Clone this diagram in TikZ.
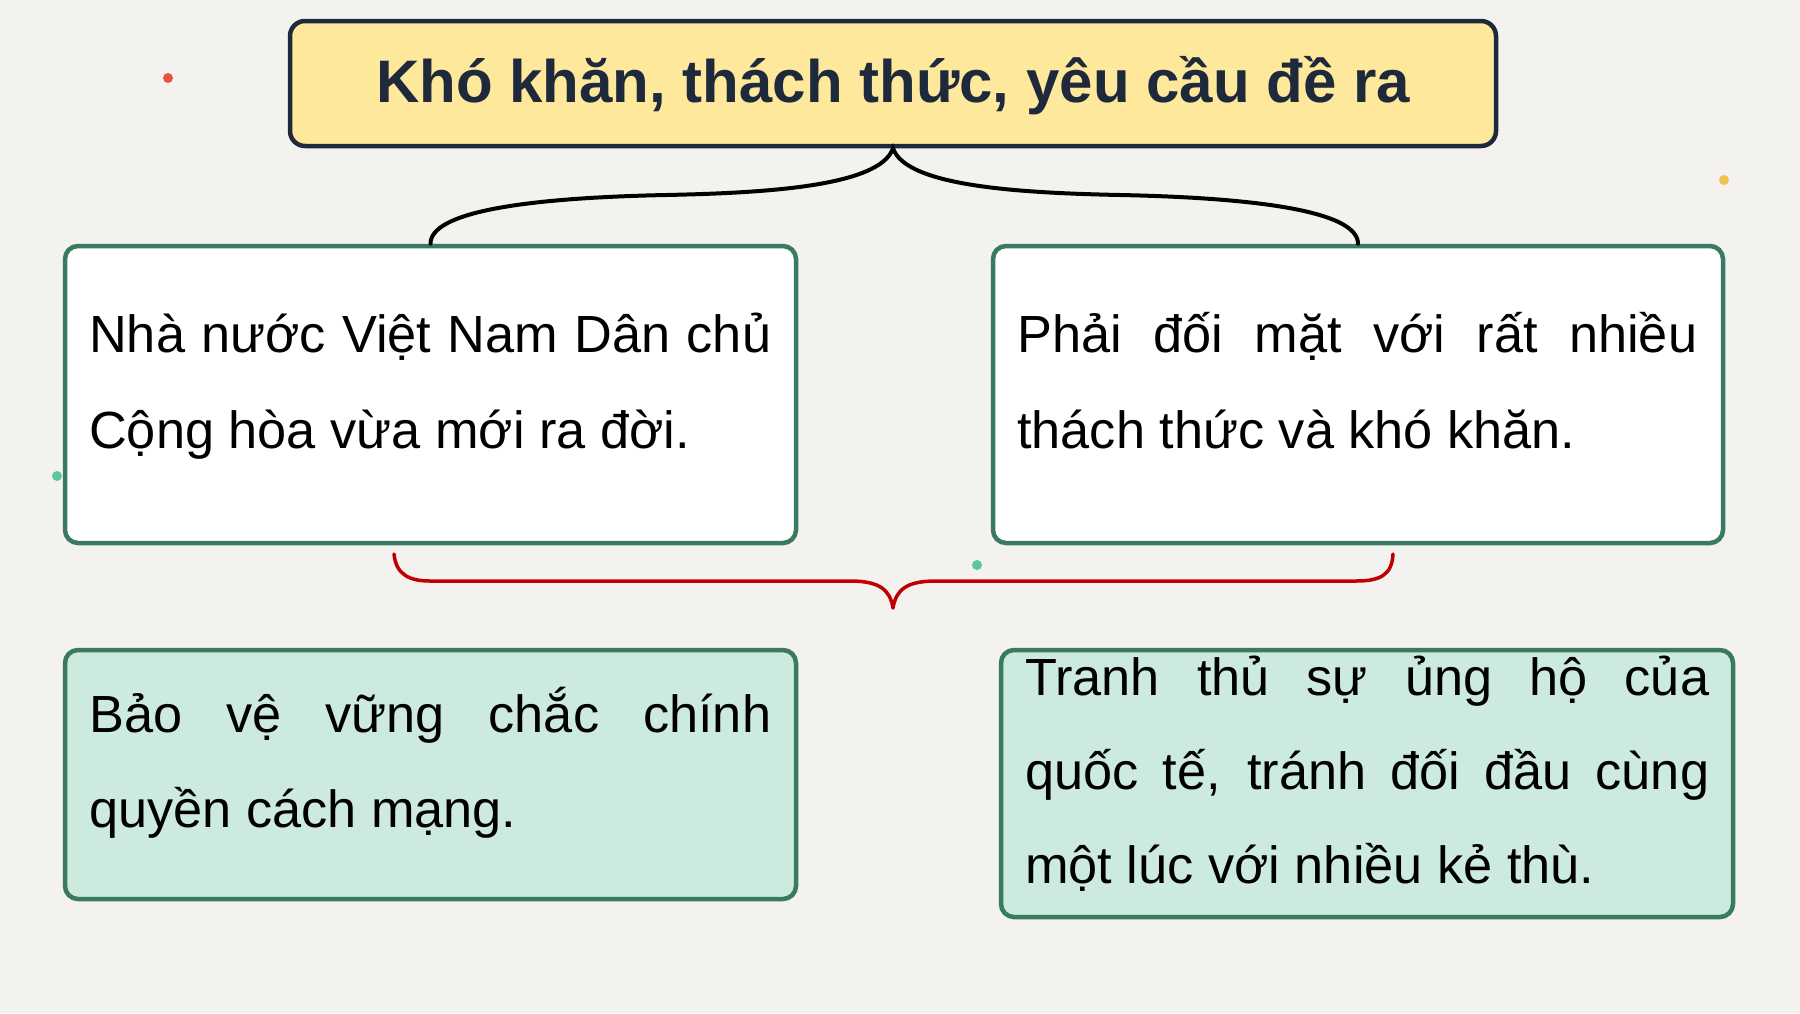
\documentclass[tikz,border=0pt]{standalone}
\usepackage{fontspec}
\setmainfont{Liberation Sans}
\definecolor{bgc}{HTML}{F4F2EF}
\definecolor{titlefill}{HTML}{FDE89B}
\definecolor{titledraw}{HTML}{1E293B}
\definecolor{boxgreen}{HTML}{3A7A60}
\definecolor{mint}{HTML}{CDEADE}
\definecolor{bracered}{HTML}{C00000}
\tikzset{
  titlebox/.style={draw=titledraw, fill=titlefill, line width=4.5pt, rounded corners=15pt, inner sep=0pt},
  whitebox/.style={draw=boxgreen, fill=white, line width=4.5pt, rounded corners=13pt, inner sep=0pt},
  mintbox/.style={draw=boxgreen, fill=mint, line width=4.5pt, rounded corners=13pt, inner sep=0pt},
  bodytext/.style={inner sep=0pt, anchor=base west, font=\fontsize{52.3}{58}\selectfont},
  blackbrace/.style={draw=black, line width=4pt, line cap=round},
  redbrace/.style={draw=bracered, line width=3.5pt, line cap=round, line join=round},
  speck/.style={circle, inner sep=0pt, minimum size=10pt}
}
\begin{document}
\begin{tikzpicture}[x=1pt, y=-1pt]
\fill[bgc] (0,0) rectangle (1800,1013);
\useasboundingbox (0,0) rectangle (1800,1013);

% decorative specks
\node[speck, fill={rgb,255:red,232;green,85;blue,63}] (s1) at (168,78) {};
\node[speck, fill={rgb,255:red,242;green,193;blue,78}] (s2) at (1724,180) {};
\node[speck, fill={rgb,255:red,95;green,196;blue,160}] (s3) at (57,476) {};
\node[speck, fill={rgb,255:red,95;green,196;blue,160}] (s4) at (977,565) {};

% boxes
\node[titlebox, minimum width=1206pt, minimum height=125pt] (title) at (893,83.5) {};
\node[inner sep=0pt, text=titledraw, font=\fontsize{60}{66}\selectfont\bfseries] (titletext) at (893,86) {Khó khăn, thách thức, yêu cầu đề ra};

\node[whitebox, minimum width=731pt, minimum height=297pt] (box1) at (430.5,394.5) {};
\node[whitebox, minimum width=730pt, minimum height=297pt] (box2) at (1358,394.5) {};
\node[mintbox, minimum width=731pt, minimum height=249pt] (box3) at (430.5,774.5) {};
\node[mintbox, minimum width=732pt, minimum height=267pt] (box4) at (1367,783.5) {};

% texts
\node[bodytext] (t1) at (89,352) {\vtop{\baselineskip=96pt
  \hbox to 682pt{Nhà nước Việt Nam Dân chủ}
  \hbox{Cộng hòa vừa mới ra đời.}}};
\node[bodytext] (t2) at (1017,352) {\vtop{\baselineskip=96pt
  \hbox to 680pt{Phải đối mặt với rất nhiều}
  \hbox{thách thức và khó khăn.}}};
\node[bodytext] (t3) at (89,732) {\vtop{\baselineskip=95pt
  \hbox to 682pt{Bảo vệ vững chắc chính}
  \hbox{quyền cách mạng.}}};
\node[bodytext] (t4) at (1025,695) {\vtop{\baselineskip=94pt
  \hbox to 684pt{Tranh thủ sự ủng hộ của}
  \hbox to 684pt{quốc tế, tránh đối đầu cùng}
  \hbox{một lúc với nhiều kẻ thù.}}};

% black brace from title to the two top boxes
\coordinate (bl) at (666,195);
\coordinate (br) at (1120,195);
\draw[blackbrace] (box1.north) .. controls +(0,-31) and +(-146,3) .. (bl)
  .. controls +(94,-2) and +(-13,39) .. (title.south)
  .. controls +(13,39) and +(-94,-2) .. (br)
  .. controls +(146,3) and +(0,-31) .. (box2.north);

% red brace below the top boxes
\coordinate (rl) at (394,554);
\coordinate (rr) at (1393,554);
\coordinate (rtip) at (893,608);
\draw[redbrace] (rl) .. controls +(2,21) and +(-20,0) .. (430,581) -- (850,581)
  .. controls +(30,0) and +(-3,-18) .. (rtip)
  .. controls +(3,-18) and +(-30,0) .. (936,581) -- (1356,581)
  .. controls +(24,0) and +(-1,21) .. (rr);
\end{tikzpicture}
\end{document}
